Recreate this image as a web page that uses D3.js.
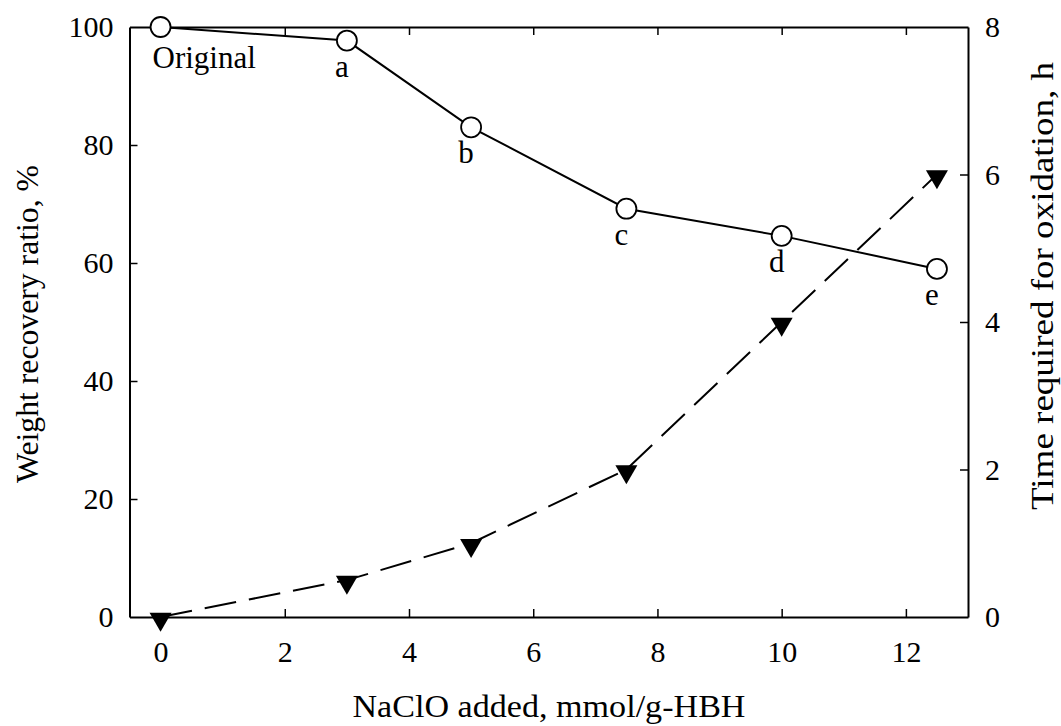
<!DOCTYPE html>
<html>
<head>
<meta charset="utf-8">
<title>NaClO oxidation</title>
<script src="https://cdn.jsdelivr.net/npm/d3@7"></script>
<style>
  body { margin: 0; background: #fff; }
  text { font-family: "Liberation Serif", "Times New Roman", serif; fill: #000; }
</style>
</head>
<body>
<div id="chart"></div>
<script>
// data
var naclo = [0, 3, 5, 7.5, 10, 12.5];
var recovery = [100, 97.7, 83, 69.2, 64.6, 59];
var oxTime = [0, 0.5, 1, 2, 4, 6];
var pointLabels = ["Original", "a", "b", "c", "d", "e"];
var xTicks = [0, 2, 4, 6, 8, 10, 12];
var yLeftTicks = [0, 20, 40, 60, 80, 100];
var yRightTicks = [0, 2, 4, 6, 8];

var W = 1061, H = 726;
var m = {left: 129.5, right: 968, top: 27, bottom: 617};

var svg = d3.select('#chart').append('svg')
    .attr('width', W)
    .attr('height', H);

var x = d3.scaleLinear().domain([-0.5, 13]).range([m.left, m.right]);
var yL = d3.scaleLinear().domain([0, 100]).range([m.bottom, m.top]);
var yR = d3.scaleLinear().domain([0, 8]).range([m.bottom, m.top]);

var fs = 30;

// axes, ticks pointing inward
var axB = svg.append('g').attr('transform', 'translate(0,' + m.bottom + ')')
    .call(d3.axisBottom(x).tickValues(xTicks).tickSizeInner(-8).tickSizeOuter(0).tickPadding(24));
var axT = svg.append('g').attr('transform', 'translate(0,' + m.top + ')')
    .call(d3.axisTop(x).tickValues(xTicks).tickSizeInner(-8).tickSizeOuter(0).tickFormat(''));
var axL = svg.append('g').attr('transform', 'translate(' + m.left + ',0)')
    .call(d3.axisLeft(yL).tickValues(yLeftTicks).tickSizeInner(-8).tickSizeOuter(0).tickPadding(16));
var axR = svg.append('g').attr('transform', 'translate(' + m.right + ',0)')
    .call(d3.axisRight(yR).tickValues(yRightTicks).tickSizeInner(-8).tickSizeOuter(0).tickPadding(17));

[axB, axT, axL, axR].forEach(function(a) {
  a.select('.domain').attr('stroke', '#000').attr('stroke-width', 2);
  a.selectAll('.tick line').attr('stroke', '#000').attr('stroke-width', 1.5);
  a.selectAll('.tick text')
    .attr('font-size', fs)
    .attr('fill', '#000');
});
// no tick marks sitting on the frame corners
axT.selectAll('.tick').filter(function(d) { return d === 0; }).select('line').remove();
axB.selectAll('.tick').filter(function(d) { return d === 0; }).select('line').remove();
axL.selectAll('.tick').filter(function(d) { return d === 0 || d === 100; }).select('line').remove();
axR.selectAll('.tick').filter(function(d) { return d === 0 || d === 8; }).select('line').remove();

// axis titles
svg.append('text')
    .attr('x', 549)
    .attr('y', 717)
    .attr('text-anchor', 'middle')
    .attr('font-size', 31)
    .attr('textLength', 393)
    .attr('lengthAdjust', 'spacingAndGlyphs')
    .text('NaClO added, mmol/g-HBH');

svg.append('text')
    .attr('transform', 'translate(38,324) rotate(-90)')
    .attr('text-anchor', 'middle')
    .attr('font-size', 31)
    .attr('textLength', 318)
    .attr('lengthAdjust', 'spacingAndGlyphs')
    .text('Weight recovery ratio, %');

svg.append('text')
    .attr('transform', 'translate(1053,286) rotate(-90)')
    .attr('text-anchor', 'middle')
    .attr('font-size', 31)
    .attr('textLength', 448)
    .attr('lengthAdjust', 'spacingAndGlyphs')
    .text('Time required for oxidation, h');

// time series: dashed line with filled down triangles
var lineT = d3.line().x(function(d, i) { return x(naclo[i]); }).y(function(d) { return yR(d); });
svg.append('path')
    .datum(oxTime)
    .attr('d', lineT)
    .attr('fill', 'none')
    .attr('stroke', '#000')
    .attr('stroke-width', 2)
    .attr('stroke-dasharray', '32,13');

var tri = d3.symbol().type(d3.symbolTriangle).size(210);
svg.selectAll('.tri')
    .data(oxTime)
    .enter().append('path')
    .attr('class', 'tri')
    .attr('d', tri)
    .attr('transform', function(d, i) { return 'translate(' + x(naclo[i]) + ',' + (yR(d) + 2) + ') rotate(180)'; })
    .attr('fill', '#000');

// weight recovery: solid line with open circles
var lineW = d3.line().x(function(d, i) { return x(naclo[i]); }).y(function(d) { return yL(d); });
svg.append('path')
    .datum(recovery)
    .attr('d', lineW)
    .attr('fill', 'none')
    .attr('stroke', '#000')
    .attr('stroke-width', 2);

svg.selectAll('.circ')
    .data(recovery)
    .enter().append('circle')
    .attr('class', 'circ')
    .attr('cx', function(d, i) { return x(naclo[i]); })
    .attr('cy', function(d) { return yL(d); })
    .attr('r', 10)
    .attr('fill', '#fff')
    .attr('stroke', '#000')
    .attr('stroke-width', 1.8);

// point labels
svg.selectAll('.plab')
    .data(recovery)
    .enter().append('text')
    .attr('class', 'plab')
    .attr('x', function(d, i) { return i === 0 ? x(naclo[i]) - 8 : x(naclo[i]) - 5; })
    .attr('y', function(d, i) { return i === 0 ? yL(d) + 41 : yL(d) + 36; })
    .attr('text-anchor', function(d, i) { return i === 0 ? 'start' : 'middle'; })
    .attr('font-size', 31)
    .text(function(d, i) { return pointLabels[i]; });
</script>
</body>
</html>
